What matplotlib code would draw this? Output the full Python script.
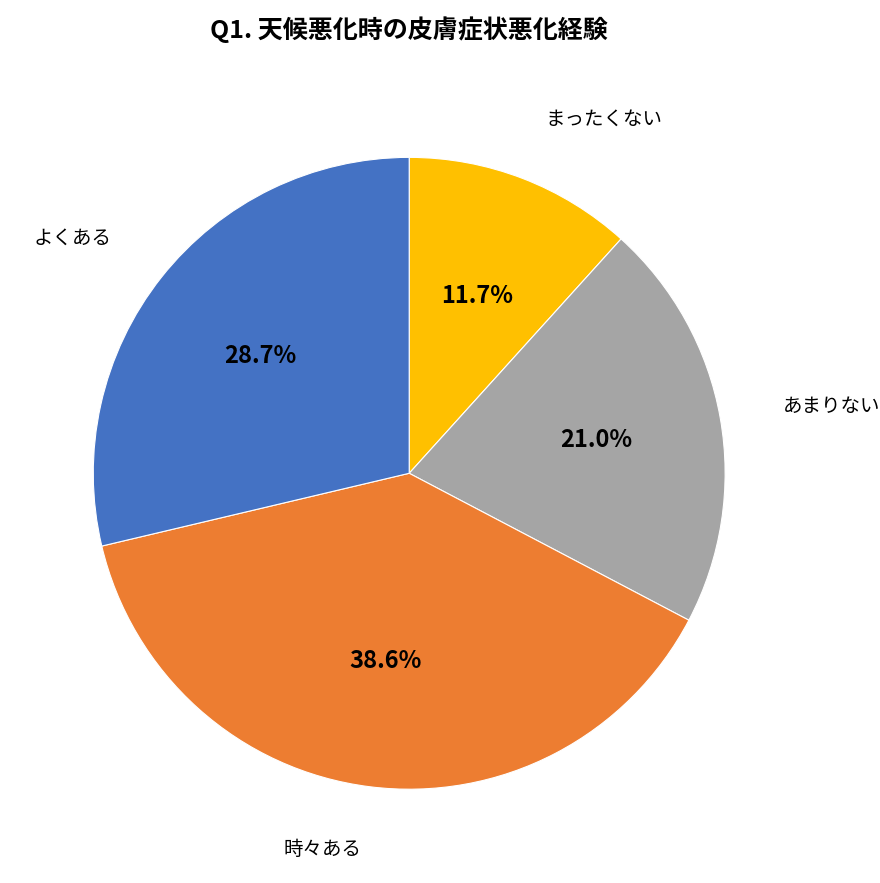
import matplotlib
matplotlib.use("Agg")
import matplotlib.pyplot as plt

plt.rcParams['font.family'] = ['Noto Sans CJK JP', 'DejaVu Sans']

categories = ["まったくない", "あまりない", "時々ある", "よくある"]
values = [11.7, 21.0, 38.6, 28.7]
colors = ["#FFC000", "#A5A5A5", "#ED7D31", "#4472C4"]

fig = plt.figure(figsize=(8.8, 8.83), dpi=100)
ax = fig.add_axes([0.465 - 0.359, 0.464 - 0.358, 0.718, 0.716])
wedges, texts, autotexts = ax.pie(
    values, labels=categories, colors=colors, startangle=90, counterclock=False,
    autopct=lambda p: f"{p:.1f}%", pctdistance=0.6, labeldistance=1.2,
    wedgeprops=dict(edgecolor="white", linewidth=0.8),
    textprops=dict(fontsize=14))
for t in autotexts:
    t.set_fontsize(17)
    t.set_fontweight("bold")
ax.set_xlim(-1, 1)
ax.set_ylim(-1, 1)
ax.set_aspect("equal")
ax.set_axis_off()
fig.text(0.465, 0.966, "Q1. 天候悪化時の皮膚症状悪化経験", ha="center", va="center",
         fontsize=18, fontweight="bold")
fig.savefig("out.png", dpi=100, facecolor="white")
